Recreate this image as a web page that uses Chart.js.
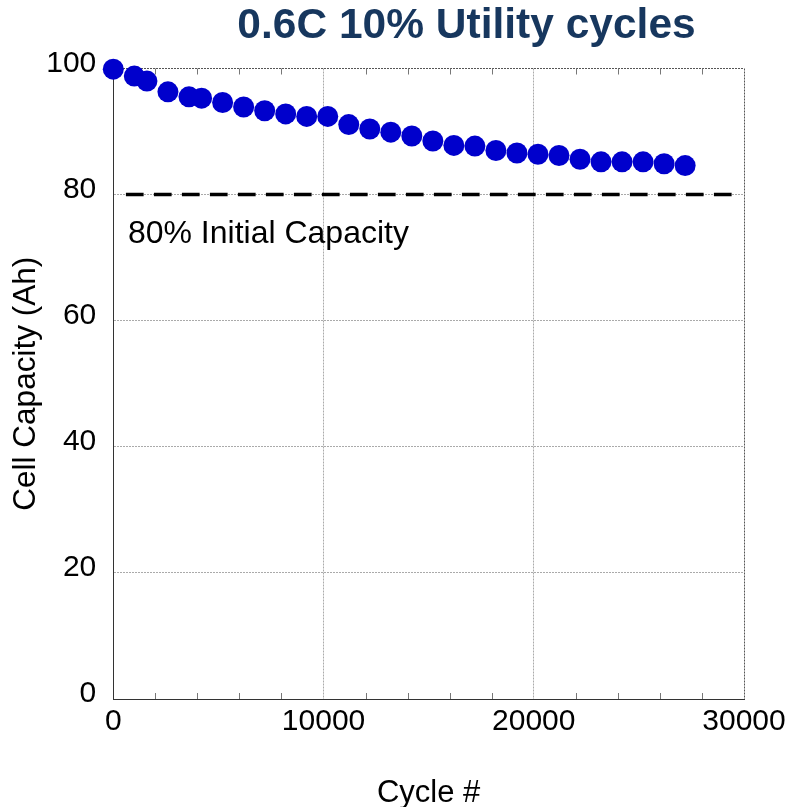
<!DOCTYPE html>
<html><head><meta charset="utf-8">
<script src="https://cdn.jsdelivr.net/npm/chart.js@4.4.1/dist/chart.umd.min.js"></script>
<style>html,body{margin:0;padding:0;background:#fff;overflow:hidden}
#wrap{width:792px;height:807px;position:relative}</style>
</head><body><div id="wrap"><canvas id="c" width="792" height="807"></canvas></div>
<script>
// ---- data ----
const chartTitle = '0.6C 10% Utility cycles';
const cycles = [0,1000,1600,2600,3600,4200,5200,6200,7200,8200,9200,10200,11200,12200,13200,14200,15200,16200,17200,18200,19200,20200,21200,22200,23200,24200,25200,26200,27200];
const capacity = [99.9,98.8,98.0,96.3,95.5,95.3,94.6,93.9,93.3,92.8,92.4,92.4,91.1,90.4,89.9,89.3,88.5,87.8,87.7,87.0,86.6,86.4,86.2,85.6,85.2,85.2,85.2,84.9,84.6];
const refLineCycles = [600, 29500];
const refLineCapacity = [80, 80];
const refLabel = '80% Initial Capacity';
const xTickValues = [0,10000,20000,30000];
const yTickValues = [0,20,40,60,80,100];
const xMinorStep = 2000;

const FONT = "'Liberation Sans', Arial, sans-serif";

const extras = {
  id: 'extras',
  beforeDatasetsDraw(chart) {
    const {ctx, chartArea: a, scales: {x}} = chart;
    ctx.save();
    ctx.strokeStyle = '#777';
    ctx.lineWidth = 1;
    for (let v = xMinorStep; v < 30000; v += xMinorStep) {
      if (xTickValues.includes(v)) continue;
      const px = Math.round(x.getPixelForValue(v)) + 0.5;
      ctx.beginPath();
      ctx.moveTo(px, a.bottom); ctx.lineTo(px, a.bottom - 6);
      ctx.moveTo(px, a.top); ctx.lineTo(px, a.top + 6);
      ctx.stroke();
    }
    ctx.restore();
  },
  afterDatasetsDraw(chart) {
    const {ctx, scales: {x, y}} = chart;
    ctx.save();
    ctx.fillStyle = '#000';
    ctx.font = '32px ' + FONT;
    ctx.textAlign = 'left';
    ctx.textBaseline = 'middle';
    ctx.fillText(refLabel, x.getPixelForValue(refLineCycles[0]) + 2, y.getPixelForValue(refLineCapacity[0]) + 40);
    ctx.fillStyle = '#17375e';
    ctx.font = 'bold 42.5px ' + FONT;
    ctx.textAlign = 'center';
    ctx.textBaseline = 'alphabetic';
    ctx.fillText(chartTitle, 466.5, 38);
    ctx.restore();
  }
};

const gridColor = (edgeVal) => (c) => (c.tick && c.tick.value === edgeVal) ? '#555' : '#aaa';
const plainTick = (v) => String(v);

new Chart(document.getElementById('c'), {
  type: 'scatter',
  data: {
    datasets: [
      {
        label: 'Capacity',
        data: cycles.map((c, i) => ({x: c, y: capacity[i]})),
        backgroundColor: '#0000cc',
        borderWidth: 0,
        pointRadius: 10.5,
        pointHoverRadius: 10.5,
        showLine: false,
        clip: false
      },
      {
        label: '80%',
        data: refLineCycles.map((c, i) => ({x: c, y: refLineCapacity[i]})),
        showLine: true,
        borderColor: '#000',
        borderWidth: 3.5,
        borderDash: [17.7, 10.3],
        pointRadius: 0,
        fill: false,
        clip: false
      }
    ]
  },
  options: {
    responsive: false,
    animation: false,
    layout: {padding: {top: 68.5, right: 48, left: 0, bottom: 0}},
    plugins: {legend: {display: false}, tooltip: {enabled: false}, title: {display: false}},
    scales: {
      x: {
        type: 'linear', min: 0, max: 30000,
        afterBuildTicks: (s) => { s.ticks = xTickValues.map(v => ({value: v})); },
        afterFit: (s) => { s.height = 108; },
        ticks: {font: {family: FONT, size: 30}, color: '#000', padding: 5, maxRotation: 0, autoSkip: false, callback: plainTick},
        grid: {drawTicks: false, color: gridColor(30000), lineWidth: 1, borderDash: [2, 2]},
        border: {display: true, color: '#333', dash: [2, 1], width: 1},
        title: {display: true, text: 'Cycle #', color: '#000', font: {family: FONT, size: 31, lineHeight: 1}, padding: {top: 0, bottom: -2}}
      },
      y: {
        min: 0, max: 100,
        afterBuildTicks: (s) => { s.ticks = yTickValues.map(v => ({value: v})); },
        afterFit: (s) => { s.width = 113.3; },
        ticks: {font: {family: FONT, size: 30}, color: '#000', padding: 17, labelOffset: -5, callback: plainTick},
        grid: {drawTicks: false, color: gridColor(100), lineWidth: 1, borderDash: [2, 2]},
        border: {display: true, color: '#333', dash: [2, 1], width: 1},
        title: {display: true, text: 'Cell Capacity (Ah)', color: '#000', font: {family: FONT, size: 31.5, lineHeight: 1}, padding: {top: 11, bottom: 0}}
      }
    }
  },
  plugins: [extras]
});
</script>
</body></html>
